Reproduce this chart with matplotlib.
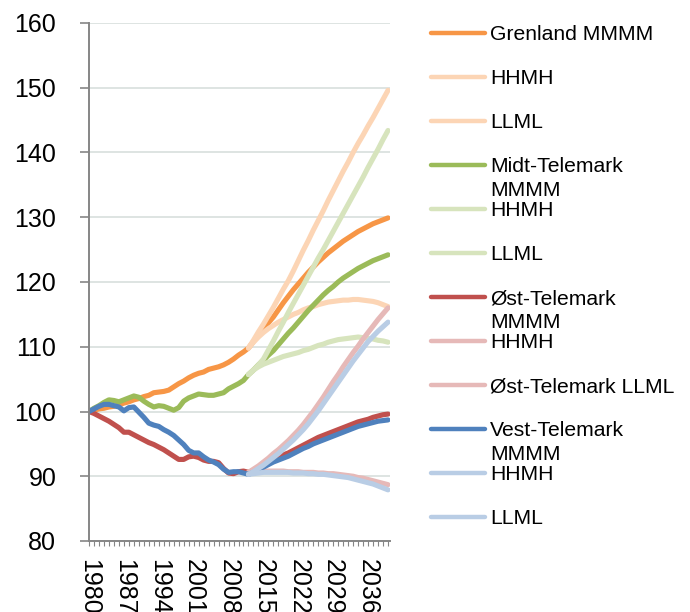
import matplotlib
matplotlib.use("Agg")
import matplotlib.pyplot as plt
from matplotlib.lines import Line2D
import numpy as np

plt.rcParams['font.family'] = ['Liberation Sans', 'DejaVu Sans']

# ---------------- data ----------------
hist_years = list(range(1980, 2013))
proj_years = list(range(2012, 2041))

grenland_hist = [100.0, 100.2, 100.4, 100.5, 100.7, 100.8, 101.0, 101.3, 101.5, 101.8,
                 102.0, 102.3, 102.5, 102.9, 103.0, 103.1, 103.3, 103.8, 104.3, 104.7,
                 105.2, 105.6, 105.9, 106.1, 106.5, 106.7, 106.9, 107.2, 107.6, 108.1,
                 108.7, 109.2, 109.8]
midt_hist = [100.0, 100.5, 100.9, 101.4, 101.8, 101.7, 101.5, 101.8, 102.1, 102.4,
             102.2, 101.6, 101.1, 100.7, 100.9, 100.8, 100.5, 100.2, 100.6, 101.6,
             102.1, 102.4, 102.7, 102.6, 102.5, 102.5, 102.7, 102.9, 103.5, 103.9,
             104.3, 104.8, 105.7]
ost_hist = [100.0, 99.7, 99.3, 98.9, 98.5, 98.0, 97.5, 96.8, 96.8, 96.4,
            96.0, 95.6, 95.2, 94.9, 94.5, 94.1, 93.6, 93.1, 92.6, 92.6,
            93.0, 93.1, 92.9, 92.5, 92.3, 92.3, 92.1, 91.2, 90.5, 90.4,
            90.7, 90.8, 90.6]
vest_hist = [100.0, 100.4, 100.8, 101.1, 101.1, 100.9, 100.7, 100.1, 100.6, 100.7,
             99.9, 99.1, 98.2, 97.9, 97.7, 97.2, 96.8, 96.3, 95.6, 94.9,
             94.0, 93.6, 93.6, 93.0, 92.5, 92.2, 91.8, 91.1, 90.6, 90.7,
             90.7, 90.5, 90.3]

grenland_mmmm = [109.8, 110.8, 111.8, 112.7, 113.7, 114.6, 115.7, 116.8, 117.8, 118.8,
                 119.7, 120.6, 121.5, 122.3, 123.1, 123.8, 124.5, 125.1, 125.7, 126.3,
                 126.8, 127.3, 127.8, 128.2, 128.6, 129.0, 129.3, 129.6, 129.9]
grenland_hhmh = [109.8, 111.0, 112.3, 113.5, 114.8, 116.1, 117.5, 118.9, 120.2, 121.7,
                 123.3, 124.9, 126.4, 128.0, 129.5, 131.0, 132.6, 134.1, 135.6, 137.1,
                 138.5, 140.0, 141.4, 142.7, 144.1, 145.4, 146.8, 148.2, 149.6]
grenland_llml = [109.8, 110.7, 111.5, 112.2, 112.8, 113.3, 113.8, 114.2, 114.6, 115.0,
                 115.3, 115.7, 116.0, 116.2, 116.5, 116.7, 116.9, 117.0, 117.1, 117.2,
                 117.2, 117.3, 117.3, 117.2, 117.1, 117.0, 116.8, 116.5, 116.2]

midt_mmmm = [105.7, 106.4, 107.2, 107.9, 108.7, 109.4, 110.3, 111.2, 112.1, 112.9,
             113.8, 114.7, 115.6, 116.4, 117.2, 118.0, 118.7, 119.3, 120.0, 120.6,
             121.1, 121.6, 122.1, 122.5, 122.9, 123.3, 123.6, 123.9, 124.2]
midt_hhmh = [105.7, 106.4, 107.2, 108.1, 109.5, 110.9, 112.4, 113.8, 115.3, 116.7,
             118.1, 119.5, 120.9, 122.3, 123.7, 125.0, 126.4, 127.8, 129.2, 130.6,
             132.0, 133.4, 134.8, 136.2, 137.7, 139.1, 140.5, 142.0, 143.4]
midt_llml = [105.7, 106.4, 106.9, 107.3, 107.6, 107.9, 108.2, 108.5, 108.7, 108.9,
             109.1, 109.4, 109.6, 109.9, 110.2, 110.4, 110.7, 110.9, 111.1, 111.2,
             111.3, 111.4, 111.5, 111.4, 111.3, 111.2, 111.0, 110.9, 110.7]

ost_mmmm = [90.6, 90.9, 91.3, 91.7, 92.1, 92.5, 92.9, 93.3, 93.6, 94.0,
            94.4, 94.8, 95.2, 95.6, 96.0, 96.3, 96.6, 96.9, 97.2, 97.5,
            97.8, 98.1, 98.4, 98.6, 98.8, 99.1, 99.3, 99.5, 99.6]
ost_hhmh = [90.6, 91.1, 91.6, 92.2, 92.8, 93.5, 94.1, 94.8, 95.5, 96.3,
            97.1, 98.0, 99.0, 100.0, 101.1, 102.2, 103.4, 104.6, 105.7, 106.9,
            108.0, 109.1, 110.1, 111.2, 112.2, 113.2, 114.2, 115.1, 116.0]
ost_llml = [90.6, 90.7, 90.7, 90.8, 90.8, 90.8, 90.8, 90.8, 90.7, 90.7,
            90.7, 90.6, 90.6, 90.6, 90.5, 90.5, 90.4, 90.4, 90.3, 90.2,
            90.1, 90.0, 89.8, 89.7, 89.5, 89.3, 89.1, 88.9, 88.7]

vest_mmmm = [90.3, 90.6, 91.0, 91.4, 91.8, 92.2, 92.5, 92.8, 93.1, 93.5,
             93.9, 94.3, 94.6, 95.0, 95.3, 95.6, 95.9, 96.2, 96.5, 96.8,
             97.1, 97.4, 97.7, 97.9, 98.1, 98.3, 98.5, 98.6, 98.7]
vest_hhmh = [90.3, 90.7, 91.2, 91.7, 92.3, 92.9, 93.5, 94.2, 94.9, 95.6,
             96.4, 97.2, 98.1, 99.1, 100.1, 101.2, 102.3, 103.4, 104.5, 105.6,
             106.7, 107.8, 108.8, 109.8, 110.8, 111.6, 112.4, 113.1, 113.8]
vest_llml = [90.3, 90.4, 90.5, 90.6, 90.6, 90.6, 90.6, 90.6, 90.6, 90.5,
             90.5, 90.5, 90.4, 90.4, 90.3, 90.3, 90.2, 90.1, 90.0, 89.9,
             89.8, 89.6, 89.4, 89.2, 89.0, 88.8, 88.5, 88.2, 87.9]

labels = ["Grenland MMMM", "HHMH", "LLML",
          "Midt-Telemark\nMMMM", "HHMH", "LLML",
          "Øst-Telemark\nMMMM", "HHMH", "Øst-Telemark LLML",
          "Vest-Telemark\nMMMM", "HHMH", "LLML"]

y_ticks = [80, 90, 100, 110, 120, 130, 140, 150, 160]
x_label_years = list(range(1980, 2041, 7))

# ---------------- styling ----------------
dark = {"g": "#F79646", "m": "#9BBB59", "o": "#C0504D", "v": "#4F81BD"}
light = {"g": "#FCD5B5", "m": "#D7E4BD", "o": "#E6B9B8", "v": "#B9CDE5"}

series = [
    (hist_years + proj_years[1:], grenland_hist + grenland_mmmm[1:], dark["g"]),
    (proj_years, grenland_hhmh, light["g"]),
    (proj_years, grenland_llml, light["g"]),
    (hist_years + proj_years[1:], midt_hist + midt_mmmm[1:], dark["m"]),
    (proj_years, midt_hhmh, light["m"]),
    (proj_years, midt_llml, light["m"]),
    (hist_years + proj_years[1:], ost_hist + ost_mmmm[1:], dark["o"]),
    (proj_years, ost_hhmh, light["o"]),
    (proj_years, ost_llml, light["o"]),
    (hist_years + proj_years[1:], vest_hist + vest_mmmm[1:], dark["v"]),
    (proj_years, vest_hhmh, light["v"]),
    (proj_years, vest_llml, light["v"]),
]

W, H = 690, 612
fig = plt.figure(figsize=(W / 100, H / 100), dpi=100)
ax = fig.add_axes([89 / W, 1 - 541 / H, (390 - 89) / W, (541 - 23) / H])

for xs, ys, c in series:
    ax.plot(xs, ys, color=c, lw=3.7, solid_capstyle='round', solid_joinstyle='round')

ax.set_xlim(1980, 2040.4)
ax.set_ylim(80, 160)
ax.set_yticks(y_ticks)
ax.set_yticklabels([str(v) for v in y_ticks])
yrs = list(range(1980, 2041))
ax.set_xticks(yrs)
ax.set_xticklabels([str(y) if y in x_label_years else "" for y in yrs],
                   rotation=-90, fontsize=18)
ax.tick_params(axis='y', labelsize=18, length=6.5, width=1.2, color='#868686',
               direction='out', pad=17)
ax.tick_params(axis='x', length=3.8, width=0.8, color='#868686',
               direction='out', pad=9.5)
ax.grid(axis='y', color='#DEE4E2', lw=1.4)
ax.set_axisbelow(True)
for s in ['top', 'right']:
    ax.spines[s].set_visible(False)
for s in ['left', 'bottom']:
    ax.spines[s].set_color('#868686')
    ax.spines[s].set_linewidth(1.4)

# ---------------- legend (manual, Excel-like) ----------------
y0 = 32.7
step = 44
for i, (lab, (_, _, c)) in enumerate(zip(labels, series)):
    yc = y0 + i * step
    fig.add_artist(Line2D([431 / W, 485 / W], [1 - yc / H, 1 - yc / H],
                          color=c, lw=3.2, solid_capstyle='round',
                          transform=fig.transFigure))
    for k, part in enumerate(lab.split("\n")):
        yb = yc + k * 24 + 7.5
        fig.text(490 / W, 1 - yb / H, part, fontsize=15.2, va='baseline',
                 ha='left', color='black')

fig.savefig("out.png", dpi=100)
